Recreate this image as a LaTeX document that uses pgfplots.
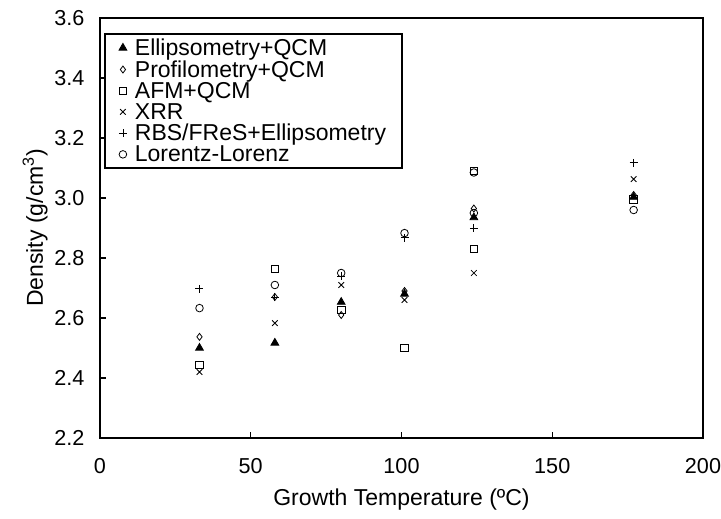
\documentclass[border=0pt]{standalone}
\usepackage{pgfplots}
\pgfplotsset{compat=1.18}
\usepackage{fontspec}
\setmainfont{Liberation Sans}
\begin{document}
\begin{tikzpicture}
\path[use as bounding box] (-100pt,-81pt) rectangle (621pt,438pt);
\begin{axis}[
  at={(0,0)}, anchor=south west,
  scale only axis,
  width=603pt, height=420pt,
  xmin=0, xmax=200, ymin=2.2, ymax=3.6,
  xtick={0,50,100,150,200},
  ytick={2.2,2.4,...,3.61},
  tick pos=left, tick align=inside,
  major tick length=6pt,
  axis line style={line width=1.6pt},
  tick style={line width=1.2pt, black},
  /pgf/number format/assume math mode=true,
  yticklabel style={/pgf/number format/fixed, /pgf/number format/fixed zerofill, /pgf/number format/precision=1, xshift=-12pt},
  ticklabel style={font=\fontsize{21.6}{24}\selectfont},
  xticklabel style={yshift=-17pt},
  xlabel={Growth Temperature (ºC)},
  ylabel={Density (g/cm\textsuperscript{3})},
  label style={font=\fontsize{23}{25}\selectfont},
  xlabel style={yshift=-8pt},
  ylabel style={yshift=0pt},
  legend cell align=left,
  legend style={at={(0.007,0.964)}, anchor=north west, draw=black, line width=1.4pt,
    font=\fontsize{23}{23}\selectfont, row sep=-0.5pt, column sep=6pt, inner xsep=14pt, inner ysep=3pt},
  every axis plot/.append style={only marks, black, line width=0.8pt},
]
\addplot[mark=triangle*, mark size=4.5pt, mark options={fill=black}] coordinates {
 (33,2.50) (58,2.517) (80,2.653) (101,2.68) (124,2.935) (177,3.003)};
\addlegendentry{Ellipsometry+QCM}
\addplot[mark=diamond, mark size=3.5pt] coordinates {
 (33,2.537) (58,2.67) (80,2.61) (101,2.69) (124,2.965) (177,3.01)};
\addlegendentry{Profilometry+QCM}
\addplot[mark=square, mark size=3.8pt] coordinates {
 (33,2.443) (58,2.763) (80,2.627) (101,2.50) (124,3.09) (124,2.83) (177,2.995)};
\addlegendentry{AFM+QCM}
\addplot[mark=x, mark size=4pt] coordinates {
 (33,2.42) (58,2.583) (80,2.71) (101,2.66) (124,2.75) (177,3.063)};
\addlegendentry{XRR}
\addplot[mark=+, mark size=4pt] coordinates {
 (33,2.697) (58,2.67) (80,2.74) (101,2.867) (124,2.90) (177,3.117)};
\addlegendentry{RBS/FReS+Ellipsometry}
\addplot[mark=o, mark size=3.8pt] coordinates {
 (33,2.633) (58,2.71) (80,2.75) (101,2.883) (124,3.085) (124,2.95) (177,2.96)};
\addlegendentry{Lorentz-Lorenz}
\end{axis}
\end{tikzpicture}
\end{document}
